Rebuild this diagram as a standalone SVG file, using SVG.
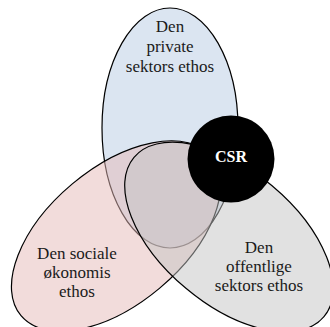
<svg xmlns="http://www.w3.org/2000/svg" width="330" height="327" viewBox="0 0 330 327">
<style>
.sh{stroke:#000;stroke-width:1.2}
.lbl{font-family:"Liberation Serif","Times New Roman",serif;font-size:17px;fill:#1a1a1a;text-anchor:middle}
.csr{font-family:"Liberation Serif","Times New Roman",serif;font-size:16px;font-weight:bold;fill:#fff;text-anchor:middle}
</style>
<rect width="330" height="327" fill="#fff"/>
<g id="private">
<ellipse class="sh" cx="170" cy="128" rx="68" ry="120" fill="#dbe5f1"/>
</g>
<g id="social">
<ellipse class="sh" cx="116" cy="236" rx="124" ry="68" transform="rotate(-40 116 236)" fill="#e6b9b8" fill-opacity="0.5"/>
</g>
<g id="public">
<ellipse class="sh" cx="229" cy="237" rx="124" ry="67" transform="rotate(40 229 237)" fill="#c4c4c4" fill-opacity="0.5"/>
</g>
<g id="csr">
<circle cx="231" cy="159" r="43.5" fill="#000"/>
<text class="csr" x="231" y="162">CSR</text>
</g>
<g id="labels">
<text class="lbl" x="170" y="32">Den</text>
<text class="lbl" x="170" y="52">private</text>
<text class="lbl" x="170" y="72">sektors ethos</text>
<text class="lbl" x="77" y="259">Den sociale</text>
<text class="lbl" x="77" y="278">økonomis</text>
<text class="lbl" x="77" y="297">ethos</text>
<text class="lbl" x="259" y="253">Den</text>
<text class="lbl" x="259" y="272">offentlige</text>
<text class="lbl" x="259" y="291">sektors ethos</text>
</g>
</svg>
